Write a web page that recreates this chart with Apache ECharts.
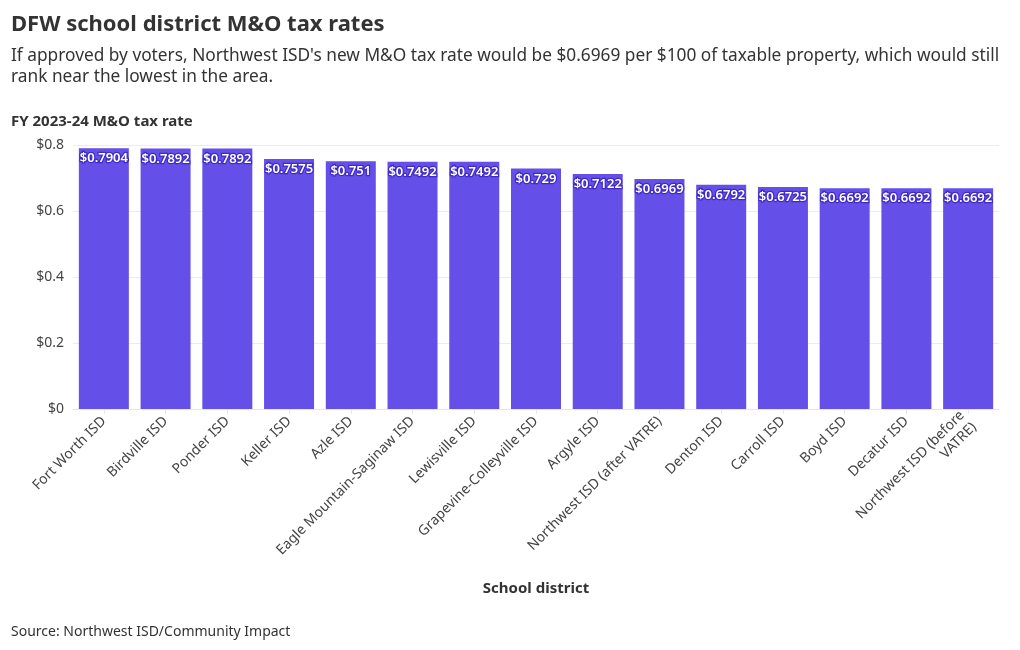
<!DOCTYPE html>
<html><head><meta charset="utf-8">
<script src="https://cdn.jsdelivr.net/npm/echarts@6/dist/echarts.min.js"></script>
<style>html,body{margin:0;padding:0;background:#fff;}#c{width:1020px;height:650px;}</style>
</head><body><div id="c"></div>
<script>
const categories = ["Fort Worth ISD","Birdville ISD","Ponder ISD","Keller ISD","Azle ISD","Eagle Mountain-Saginaw ISD","Lewisville ISD","Grapevine-Colleyville ISD","Argyle ISD","Northwest ISD (after VATRE)","Denton ISD","Carroll ISD","Boyd ISD","Decatur ISD","Northwest ISD (before\nVATRE)"];
const rates = [0.7904,0.7892,0.7892,0.7575,0.751,0.7492,0.7492,0.729,0.7122,0.6969,0.6792,0.6725,0.6692,0.6692,0.6692];
const yTicks = [0,0.2,0.4,0.6,0.8];
const FONT = "'Noto Sans', Roboto, sans-serif";
const chart = echarts.init(document.getElementById('c'));
chart.setOption({
  animation:false,
  textStyle:{fontFamily:FONT},
  title:[
    {text:"DFW school district M&O tax rates", left:6, top:9, textStyle:{fontSize:22, fontWeight:'bold', color:'#333', fontFamily:FONT}},
    {text:"If approved by voters, Northwest ISD's new M&O tax rate would be $0.6969 per $100 of taxable property, which would still\nrank near the lowest in the area.", left:6, top:41, textStyle:{fontSize:17.3, fontWeight:'normal', color:'#333', lineHeight:21, fontFamily:FONT}},
    {text:"FY 2023-24 M&O tax rate", left:6, top:109, textStyle:{fontSize:15, fontWeight:'bold', color:'#333', fontFamily:FONT}},
    {text:"Source: Northwest ISD/Community Impact", left:6, top:620, textStyle:{fontSize:14, fontWeight:'normal', color:'#333', fontFamily:FONT}}
  ],
  grid:{left:73, right:21, top:145, bottom:241},
  xAxis:{
    type:'category', data:categories,
    name:'School district', nameLocation:'middle', nameGap:172,
    nameTextStyle:{fontSize:15, fontWeight:'bold', color:'#333', fontFamily:FONT},
    axisLine:{show:true, lineStyle:{color:'#e6e6e6'}},
    axisTick:{show:true, alignWithLabel:true, lineStyle:{color:'#e6e6e6'}},
    axisLabel:{rotate:45, interval:0, fontSize:14, color:'#444', fontFamily:FONT, margin:10, align:'right', lineHeight:17}
  },
  yAxis:{
    type:'value', min:0, max:0.8, interval:0.2,
    axisLine:{show:false}, axisTick:{show:false},
    splitLine:{lineStyle:{color:'#ececec'}},
    axisLabel:{fontSize:14, color:'#444', fontFamily:FONT, margin:9, formatter:v=>'$'+(+v.toFixed(1))}
  },
  series:[{
    type:'bar', data:rates, barWidth:50,
    itemStyle:{color:'#6450e8'},
    label:{show:true, position:'insideTop', distance:4, color:'#fff', fontSize:13, fontWeight:600, fontFamily:FONT,
      textBorderColor:'#3f2bc4', textBorderWidth:2.5, formatter:p=>'$'+p.value}
  }]
});
</script></body></html>
